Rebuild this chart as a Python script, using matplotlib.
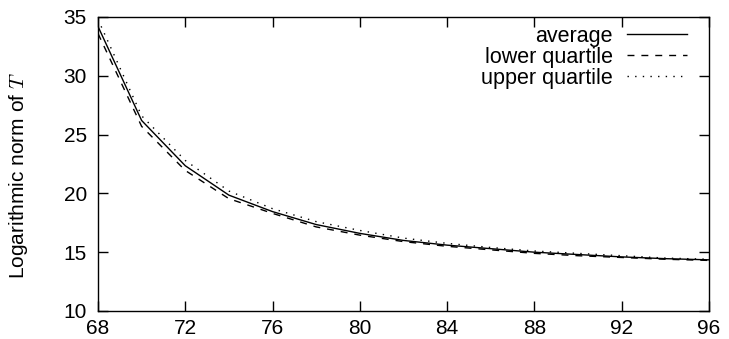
import matplotlib.pyplot as plt

x = [68, 70, 72, 74, 76, 78, 80, 82, 84, 86, 88, 90, 92, 94, 96]
average = [34.2, 26.2, 22.35, 19.85, 18.45, 17.35, 16.6, 16.0, 15.6, 15.3, 15.0, 14.8, 14.6, 14.45, 14.35]
lower_q = [33.6, 25.7, 21.95, 19.55, 18.3, 17.15, 16.45, 15.9, 15.5, 15.2, 14.9, 14.7, 14.55, 14.4, 14.3]
upper_q = [34.8, 26.6, 22.8, 20.2, 18.7, 17.6, 16.85, 16.2, 15.75, 15.4, 15.1, 14.9, 14.7, 14.5, 14.4]

plt.rcParams['font.family'] = ['Liberation Sans', 'DejaVu Sans']
plt.rcParams['mathtext.fontset'] = 'cm'

fig = plt.figure(figsize=(7.29, 3.39), dpi=100)
ax = fig.add_axes([0.1344, 0.0826, 0.8382, 0.8673])

ax.plot(x, average, color='black', lw=1.0, label='average')
ax.plot(x, lower_q, color='black', lw=1.0, linestyle=(0, (5, 5)), label='lower quartile')
ax.plot(x, upper_q, color='black', lw=1.0, linestyle=(0, (1, 4.5)), label='upper quartile')

ax.set_xlim(68, 96)
ax.set_ylim(10, 35)
ax.set_xticks(range(68, 97, 4))
ax.set_yticks(range(10, 36, 5))
ax.tick_params(direction='in', length=7, width=1, top=True, right=True, labelsize=15)
ax.tick_params(axis='x', pad=6)
ax.tick_params(axis='y', pad=8)
for s in ax.spines.values():
    s.set_linewidth(1.0)
ax.set_ylabel('Logarithmic norm of $T$', fontsize=15)
ax.yaxis.set_label_coords(-0.112, 0.46)

ax.legend(loc='upper right', bbox_to_anchor=(0.978, 1.0), frameon=False, markerfirst=False,
          fontsize=15.5, handlelength=2.8, labelspacing=0.0, borderaxespad=0.0, handletextpad=0.65)

fig.savefig('out.png', dpi=100)
